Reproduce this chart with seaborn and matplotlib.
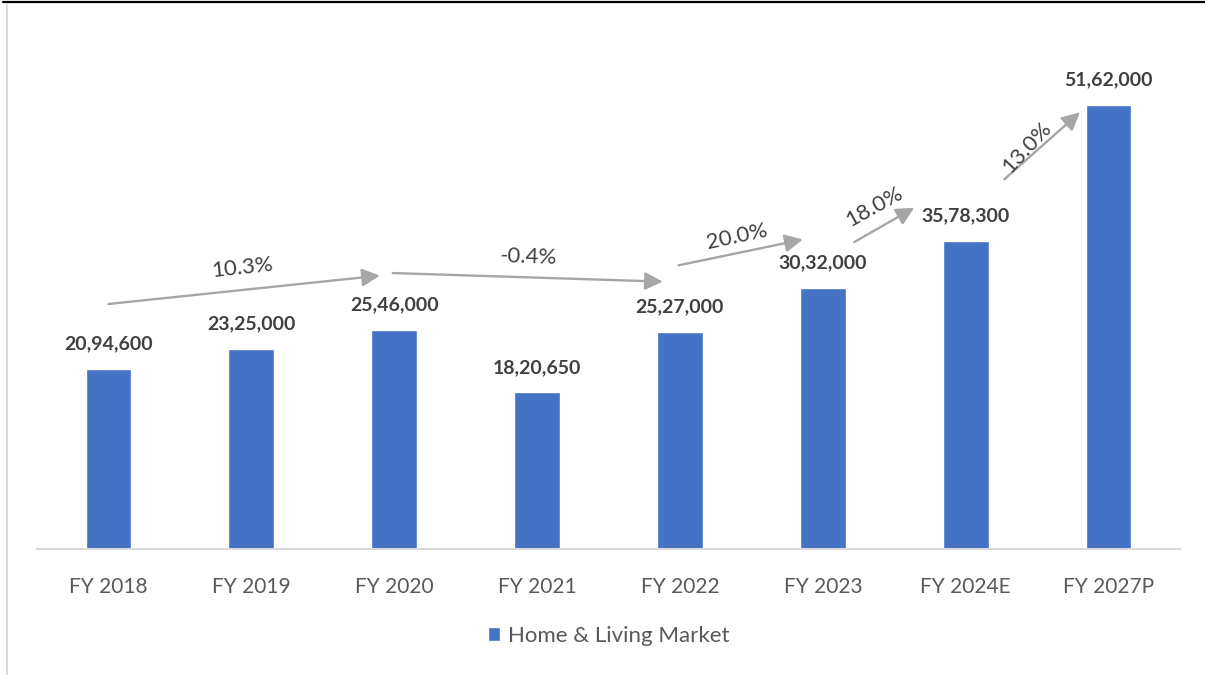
import matplotlib
matplotlib.use("Agg")
import matplotlib.pyplot as plt
from matplotlib.lines import Line2D
import seaborn as sns
import pandas as pd

# Home & Living market size by fiscal year
years = ["FY 2018", "FY 2019", "FY 2020", "FY 2021", "FY 2022", "FY 2023", "FY 2024E", "FY 2027P"]
market = [2094600, 2325000, 2546000, 1820650, 2527000, 3032000, 3578300, 5162000]
labels = ["20,94,600", "23,25,000", "25,46,000", "18,20,650", "25,27,000", "30,32,000", "35,78,300", "51,62,000"]
growth = ["10.3%", "-0.4%", "20.0%", "18.0%", "13.0%"]

# growth arrows: (x0, y0, x1, y1), label centre (x, y) and angle
arrow_paths = [
    (0.00, 2.85e6, 1.90, 3.18e6),
    (1.99, 3.21e6, 3.88, 3.11e6),
    (3.99, 3.30e6, 4.86, 3.60e6),
    (5.22, 3.57e6, 5.64, 3.97e6),
    (6.27, 4.30e6, 6.80, 5.08e6),
]
label_spots = [
    (0.94, 3.27e6, 6),
    (2.94, 3.40e6, -2),
    (4.40, 3.63e6, 12),
    (5.36, 3.98e6, 29),
    (6.43, 4.67e6, 47),
]

sns.set_theme(style="white")
plt.rcParams["font.family"] = ["Lato", "DejaVu Sans"]

df = pd.DataFrame({"year": years, "value": market})

fig = plt.figure(figsize=(12.05, 6.75), dpi=100)
ax = fig.add_axes([37 / 1205, 1 - 549 / 675, (1180 - 37) / 1205, 533 / 675])

sns.barplot(data=df, x="year", y="value", color="#4472C4", width=0.32,
            saturation=1, label="Home & Living Market", ax=ax)

ax.set_ylim(0, 6.2e6)
ax.set_xlim(-0.5, len(years) - 0.5)
ax.set_xlabel("")
ax.set_ylabel("")
ax.set_yticks([])
for side in ["top", "right", "left"]:
    ax.spines[side].set_visible(False)
ax.spines["bottom"].set_color("#d9d9d9")
ax.spines["bottom"].set_linewidth(1.5)
ax.tick_params(axis="x", length=0, pad=20, labelsize=15, labelcolor="#595959")

for i, (v, t) in enumerate(zip(market, labels)):
    ax.annotate(t, (i, v), xytext=(0, 12), textcoords="offset points",
                ha="center", va="bottom", fontsize=14, fontweight="bold",
                color="#404040")

for (x0, y0, x1, y1), (lx, ly, ang), g in zip(arrow_paths, label_spots, growth):
    ax.annotate("", xy=(x1, y1), xytext=(x0, y0),
                arrowprops=dict(arrowstyle="-|>,head_length=0.9,head_width=0.45",
                                color="#a6a6a6", lw=1.7, shrinkA=0, shrinkB=0))
    ax.text(lx, ly, g, rotation=ang, ha="center", va="center", fontsize=16,
            color="#404040", rotation_mode="anchor")

leg = ax.legend(loc="center", bbox_to_anchor=(0.5, (549 - 636) / 533),
                frameon=False, fontsize=16, handlelength=0.55, handleheight=0.55,
                handletextpad=0.35, borderaxespad=0)
for txt in leg.get_texts():
    txt.set_color("#595959")

# outer frame edges
fig.add_artist(Line2D([3 / 1205, 1], [1 - 1.5 / 675] * 2, color="black", lw=1.6))
fig.add_artist(Line2D([7.5 / 1205] * 2, [0, 1 - 5 / 675], color="#d9d9d9", lw=1.5))

fig.savefig("out.png", dpi=100)
